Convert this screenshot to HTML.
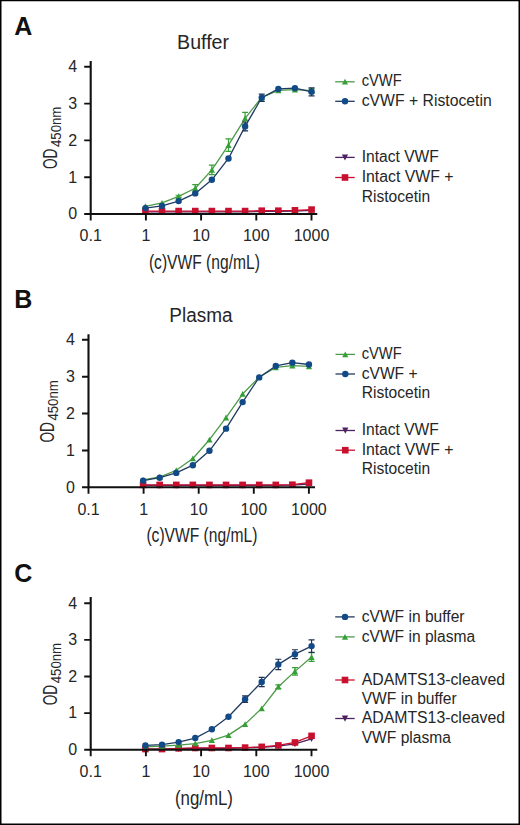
<!DOCTYPE html>
<html><head><meta charset="utf-8"><style>
html,body{margin:0;padding:0;background:#fff;}
svg{display:block;}
text{font-family:"Liberation Sans", sans-serif;}
</style></head><body>
<svg width="520" height="825" viewBox="0 0 520 825">
<rect x="0" y="0" width="520" height="825" fill="#fff"/>
<path d="M145.40 211.79 L162.02 211.79 L178.63 211.79 L195.25 211.79 L211.87 211.79 L228.48 211.79 L245.10 211.79 L261.72 211.42 L278.33 211.42 L294.95 211.06 L311.57 210.32" stroke="#4e2160" stroke-width="1.3" fill="none" stroke-linejoin="round"/>
<path d="M145.40 214.99L148.50 208.79L142.30 208.79Z" fill="#4e2160"/>
<path d="M162.02 214.99L165.12 208.79L158.92 208.79Z" fill="#4e2160"/>
<path d="M178.63 214.99L181.73 208.79L175.53 208.79Z" fill="#4e2160"/>
<path d="M195.25 214.99L198.35 208.79L192.15 208.79Z" fill="#4e2160"/>
<path d="M211.87 214.99L214.97 208.79L208.77 208.79Z" fill="#4e2160"/>
<path d="M228.48 214.99L231.58 208.79L225.38 208.79Z" fill="#4e2160"/>
<path d="M245.10 214.99L248.20 208.79L242.00 208.79Z" fill="#4e2160"/>
<path d="M261.72 214.62L264.82 208.42L258.62 208.42Z" fill="#4e2160"/>
<path d="M278.33 214.62L281.43 208.42L275.23 208.42Z" fill="#4e2160"/>
<path d="M294.95 214.26L298.05 208.06L291.85 208.06Z" fill="#4e2160"/>
<path d="M311.57 213.52L314.67 207.32L308.47 207.32Z" fill="#4e2160"/>
<path d="M145.40 211.06 L162.02 211.06 L178.63 211.06 L195.25 211.06 L211.87 211.06 L228.48 211.06 L245.10 211.06 L261.72 210.69 L278.33 210.69 L294.95 210.32 L311.57 209.58" stroke="#c8102e" stroke-width="1.3" fill="none" stroke-linejoin="round"/>
<rect x="142.10" y="207.76" width="6.6" height="6.6" fill="#c8102e"/>
<rect x="158.72" y="207.76" width="6.6" height="6.6" fill="#c8102e"/>
<rect x="175.33" y="207.76" width="6.6" height="6.6" fill="#c8102e"/>
<rect x="191.95" y="207.76" width="6.6" height="6.6" fill="#c8102e"/>
<rect x="208.57" y="207.76" width="6.6" height="6.6" fill="#c8102e"/>
<rect x="225.18" y="207.76" width="6.6" height="6.6" fill="#c8102e"/>
<rect x="241.80" y="207.76" width="6.6" height="6.6" fill="#c8102e"/>
<rect x="258.42" y="207.39" width="6.6" height="6.6" fill="#c8102e"/>
<rect x="275.03" y="207.39" width="6.6" height="6.6" fill="#c8102e"/>
<rect x="291.65" y="207.02" width="6.6" height="6.6" fill="#c8102e"/>
<rect x="308.27" y="206.28" width="6.6" height="6.6" fill="#c8102e"/>
<path d="M178.63 195.23V197.44M175.63 195.23h6M175.63 197.44h6" stroke="#35a035" stroke-width="1.2" fill="none"/>
<path d="M195.25 184.56V191.92M192.25 184.56h6M192.25 191.92h6" stroke="#35a035" stroke-width="1.2" fill="none"/>
<path d="M211.87 165.06V174.62M208.87 165.06h6M208.87 174.62h6" stroke="#35a035" stroke-width="1.2" fill="none"/>
<path d="M228.48 138.93V151.44M225.48 138.93h6M225.48 151.44h6" stroke="#35a035" stroke-width="1.2" fill="none"/>
<path d="M245.10 112.43V124.21M242.10 112.43h6M242.10 124.21h6" stroke="#35a035" stroke-width="1.2" fill="none"/>
<path d="M311.57 88.88V92.56M308.57 88.88h6M308.57 92.56h6" stroke="#35a035" stroke-width="1.2" fill="none"/>
<path d="M145.40 206.27 L162.02 202.96 L178.63 196.34 L195.25 188.24 L211.87 169.84 L228.48 145.18 L245.10 118.32 L261.72 97.34 L278.33 90.35 L294.95 89.62 L311.57 90.72" stroke="#4c9a48" stroke-width="1.3" fill="none" stroke-linejoin="round"/>
<path d="M145.40 203.27L148.50 209.07L142.30 209.07Z" fill="#35a035"/>
<path d="M162.02 199.96L165.12 205.76L158.92 205.76Z" fill="#35a035"/>
<path d="M178.63 193.34L181.73 199.14L175.53 199.14Z" fill="#35a035"/>
<path d="M195.25 185.24L198.35 191.04L192.15 191.04Z" fill="#35a035"/>
<path d="M211.87 166.84L214.97 172.64L208.77 172.64Z" fill="#35a035"/>
<path d="M228.48 142.18L231.58 147.98L225.38 147.98Z" fill="#35a035"/>
<path d="M245.10 115.32L248.20 121.12L242.00 121.12Z" fill="#35a035"/>
<path d="M261.72 94.34L264.82 100.14L258.62 100.14Z" fill="#35a035"/>
<path d="M278.33 87.35L281.43 93.15L275.23 93.15Z" fill="#35a035"/>
<path d="M294.95 86.62L298.05 92.42L291.85 92.42Z" fill="#35a035"/>
<path d="M311.57 87.72L314.67 93.52L308.47 93.52Z" fill="#35a035"/>
<path d="M245.10 122.00V130.83M242.10 122.00h6M242.10 130.83h6" stroke="#1d3050" stroke-width="1.2" fill="none"/>
<path d="M261.72 94.03V101.39M258.72 94.03h6M258.72 101.39h6" stroke="#1d3050" stroke-width="1.2" fill="none"/>
<path d="M311.57 87.78V95.87M308.57 87.78h6M308.57 95.87h6" stroke="#1d3050" stroke-width="1.2" fill="none"/>
<path d="M145.40 208.11 L162.02 205.90 L178.63 201.12 L195.25 193.39 L211.87 179.78 L228.48 158.43 L245.10 126.42 L261.72 97.71 L278.33 88.88 L294.95 88.14 L311.57 91.82" stroke="#1f3a60" stroke-width="1.3" fill="none" stroke-linejoin="round"/>
<circle cx="145.40" cy="208.11" r="3.2" fill="#124a88"/>
<circle cx="162.02" cy="205.90" r="3.2" fill="#124a88"/>
<circle cx="178.63" cy="201.12" r="3.2" fill="#124a88"/>
<circle cx="195.25" cy="193.39" r="3.2" fill="#124a88"/>
<circle cx="211.87" cy="179.78" r="3.2" fill="#124a88"/>
<circle cx="228.48" cy="158.43" r="3.2" fill="#124a88"/>
<circle cx="245.10" cy="126.42" r="3.2" fill="#124a88"/>
<circle cx="261.72" cy="97.71" r="3.2" fill="#124a88"/>
<circle cx="278.33" cy="88.88" r="3.2" fill="#124a88"/>
<circle cx="294.95" cy="88.14" r="3.2" fill="#124a88"/>
<circle cx="311.57" cy="91.82" r="3.2" fill="#124a88"/>
<path d="M90.70 61.00V214.00H317.30" stroke="#111" stroke-width="2.1" fill="none"/>
<path d="M84.20 214.00H90.70M84.20 177.20H90.70M84.20 140.40H90.70M84.20 103.60H90.70M84.20 66.80H90.70M90.70 214.00V220.50M145.90 214.00V220.50M201.10 214.00V220.50M256.30 214.00V220.50M311.50 214.00V220.50" stroke="#111" stroke-width="1.9" fill="none"/>
<text x="77.20" y="219.30" text-anchor="end" font-size="16" fill="#262626">0</text>
<text x="77.20" y="182.50" text-anchor="end" font-size="16" fill="#262626">1</text>
<text x="77.20" y="145.70" text-anchor="end" font-size="16" fill="#262626">2</text>
<text x="77.20" y="108.90" text-anchor="end" font-size="16" fill="#262626">3</text>
<text x="77.20" y="72.10" text-anchor="end" font-size="16" fill="#262626">4</text>
<text x="90.70" y="241.30" text-anchor="middle" font-size="16" fill="#262626">0.1</text>
<text x="145.90" y="241.30" text-anchor="middle" font-size="16" fill="#262626">1</text>
<text x="201.10" y="241.30" text-anchor="middle" font-size="16" fill="#262626">10</text>
<text x="256.30" y="241.30" text-anchor="middle" font-size="16" fill="#262626">100</text>
<text x="311.50" y="241.30" text-anchor="middle" font-size="16" fill="#262626">1000</text>
<text x="177.1" y="48.8" font-size="19.6" fill="#262626">Buffer</text>
<text x="148.9" y="268.5" font-size="19.5" fill="#262626" textLength="111" lengthAdjust="spacingAndGlyphs">(c)VWF (ng/mL)</text>
<text x="14.2" y="34.6" font-size="25" font-weight="bold" fill="#111">A</text>
<g transform="translate(56.5,169) rotate(-90)"><text x="0" y="0" font-size="21" fill="#262626"><tspan textLength="20.4" lengthAdjust="spacingAndGlyphs">OD</tspan><tspan font-size="15.5" dx="1.6" dy="4.3" textLength="40.4" lengthAdjust="spacingAndGlyphs">450nm</tspan></text></g>
<path d="M335.20 81.80H354.70" stroke="#4c9a48" stroke-width="1.3"/>
<path d="M345.00 78.80L348.10 84.60L341.90 84.60Z" fill="#35a035"/>
<text x="361.7" y="86.40" font-size="15.6" fill="#262626" textLength="40" lengthAdjust="spacingAndGlyphs">cVWF</text>
<path d="M335.20 101.30H354.70" stroke="#1f3a60" stroke-width="1.3"/>
<circle cx="345.00" cy="101.30" r="3.2" fill="#124a88"/>
<text x="361.7" y="105.90" font-size="15.6" fill="#262626" textLength="130" lengthAdjust="spacingAndGlyphs">cVWF + Ristocetin</text>
<path d="M335.20 157.40H354.70" stroke="#4e2160" stroke-width="1.3"/>
<path d="M345.00 160.60L348.10 154.40L341.90 154.40Z" fill="#4e2160"/>
<text x="361.7" y="162.00" font-size="15.6" fill="#262626">Intact VWF</text>
<path d="M335.20 177.50H354.70" stroke="#c8102e" stroke-width="1.3"/>
<rect x="341.70" y="174.20" width="6.6" height="6.6" fill="#c8102e"/>
<text x="361.7" y="182.10" font-size="15.6" fill="#262626" textLength="91.8" lengthAdjust="spacingAndGlyphs">Intact VWF +</text>
<text x="361.7" y="201.60" font-size="15.6" fill="#262626">Ristocetin</text>
<path d="M143.10 485.46 L159.69 485.46 L176.27 485.46 L192.86 485.46 L209.45 485.46 L226.03 485.46 L242.62 485.46 L259.21 485.46 L275.79 485.46 L292.38 485.09 L308.97 483.98" stroke="#4e2160" stroke-width="1.3" fill="none" stroke-linejoin="round"/>
<path d="M143.10 488.66L146.20 482.46L140.00 482.46Z" fill="#4e2160"/>
<path d="M159.69 488.66L162.79 482.46L156.59 482.46Z" fill="#4e2160"/>
<path d="M176.27 488.66L179.37 482.46L173.17 482.46Z" fill="#4e2160"/>
<path d="M192.86 488.66L195.96 482.46L189.76 482.46Z" fill="#4e2160"/>
<path d="M209.45 488.66L212.55 482.46L206.35 482.46Z" fill="#4e2160"/>
<path d="M226.03 488.66L229.13 482.46L222.93 482.46Z" fill="#4e2160"/>
<path d="M242.62 488.66L245.72 482.46L239.52 482.46Z" fill="#4e2160"/>
<path d="M259.21 488.66L262.31 482.46L256.11 482.46Z" fill="#4e2160"/>
<path d="M275.79 488.66L278.89 482.46L272.69 482.46Z" fill="#4e2160"/>
<path d="M292.38 488.29L295.48 482.09L289.28 482.09Z" fill="#4e2160"/>
<path d="M308.97 487.18L312.07 480.98L305.87 480.98Z" fill="#4e2160"/>
<path d="M143.10 484.90 L159.69 484.90 L176.27 484.90 L192.86 484.90 L209.45 484.90 L226.03 484.90 L242.62 484.90 L259.21 484.90 L275.79 484.90 L292.38 484.72 L308.97 482.69" stroke="#c8102e" stroke-width="1.3" fill="none" stroke-linejoin="round"/>
<rect x="139.80" y="481.60" width="6.6" height="6.6" fill="#c8102e"/>
<rect x="156.39" y="481.60" width="6.6" height="6.6" fill="#c8102e"/>
<rect x="172.97" y="481.60" width="6.6" height="6.6" fill="#c8102e"/>
<rect x="189.56" y="481.60" width="6.6" height="6.6" fill="#c8102e"/>
<rect x="206.15" y="481.60" width="6.6" height="6.6" fill="#c8102e"/>
<rect x="222.73" y="481.60" width="6.6" height="6.6" fill="#c8102e"/>
<rect x="239.32" y="481.60" width="6.6" height="6.6" fill="#c8102e"/>
<rect x="255.91" y="481.60" width="6.6" height="6.6" fill="#c8102e"/>
<rect x="272.49" y="481.60" width="6.6" height="6.6" fill="#c8102e"/>
<rect x="289.08" y="481.42" width="6.6" height="6.6" fill="#c8102e"/>
<rect x="305.67" y="479.39" width="6.6" height="6.6" fill="#c8102e"/>
<path d="M143.10 479.93 L159.69 476.98 L176.27 470.34 L192.86 458.54 L209.45 439.73 L226.03 417.61 L242.62 394.01 L259.21 377.04 L275.79 367.46 L292.38 365.61 L308.97 366.35" stroke="#4c9a48" stroke-width="1.3" fill="none" stroke-linejoin="round"/>
<path d="M143.10 476.93L146.20 482.73L140.00 482.73Z" fill="#35a035"/>
<path d="M159.69 473.98L162.79 479.78L156.59 479.78Z" fill="#35a035"/>
<path d="M176.27 467.34L179.37 473.14L173.17 473.14Z" fill="#35a035"/>
<path d="M192.86 455.54L195.96 461.34L189.76 461.34Z" fill="#35a035"/>
<path d="M209.45 436.73L212.55 442.53L206.35 442.53Z" fill="#35a035"/>
<path d="M226.03 414.61L229.13 420.41L222.93 420.41Z" fill="#35a035"/>
<path d="M242.62 391.01L245.72 396.81L239.52 396.81Z" fill="#35a035"/>
<path d="M259.21 374.04L262.31 379.84L256.11 379.84Z" fill="#35a035"/>
<path d="M275.79 364.46L278.89 370.26L272.69 370.26Z" fill="#35a035"/>
<path d="M292.38 362.61L295.48 368.41L289.28 368.41Z" fill="#35a035"/>
<path d="M308.97 363.35L312.07 369.15L305.87 369.15Z" fill="#35a035"/>
<path d="M143.10 480.66 L159.69 477.71 L176.27 472.92 L192.86 465.18 L209.45 450.79 L226.03 428.67 L242.62 402.12 L259.21 377.41 L275.79 365.98 L292.38 362.66 L308.97 364.51" stroke="#1f3a60" stroke-width="1.3" fill="none" stroke-linejoin="round"/>
<circle cx="143.10" cy="480.66" r="3.2" fill="#124a88"/>
<circle cx="159.69" cy="477.71" r="3.2" fill="#124a88"/>
<circle cx="176.27" cy="472.92" r="3.2" fill="#124a88"/>
<circle cx="192.86" cy="465.18" r="3.2" fill="#124a88"/>
<circle cx="209.45" cy="450.79" r="3.2" fill="#124a88"/>
<circle cx="226.03" cy="428.67" r="3.2" fill="#124a88"/>
<circle cx="242.62" cy="402.12" r="3.2" fill="#124a88"/>
<circle cx="259.21" cy="377.41" r="3.2" fill="#124a88"/>
<circle cx="275.79" cy="365.98" r="3.2" fill="#124a88"/>
<circle cx="292.38" cy="362.66" r="3.2" fill="#124a88"/>
<circle cx="308.97" cy="364.51" r="3.2" fill="#124a88"/>
<path d="M88.50 334.20V487.30H315.00" stroke="#111" stroke-width="2.1" fill="none"/>
<path d="M82.00 487.30H88.50M82.00 450.43H88.50M82.00 413.55H88.50M82.00 376.68H88.50M82.00 339.80H88.50M88.50 487.30V493.80M143.60 487.30V493.80M198.70 487.30V493.80M253.80 487.30V493.80M308.90 487.30V493.80" stroke="#111" stroke-width="1.9" fill="none"/>
<text x="75.00" y="492.60" text-anchor="end" font-size="16" fill="#262626">0</text>
<text x="75.00" y="455.73" text-anchor="end" font-size="16" fill="#262626">1</text>
<text x="75.00" y="418.85" text-anchor="end" font-size="16" fill="#262626">2</text>
<text x="75.00" y="381.98" text-anchor="end" font-size="16" fill="#262626">3</text>
<text x="75.00" y="345.10" text-anchor="end" font-size="16" fill="#262626">4</text>
<text x="88.50" y="514.60" text-anchor="middle" font-size="16" fill="#262626">0.1</text>
<text x="143.60" y="514.60" text-anchor="middle" font-size="16" fill="#262626">1</text>
<text x="198.70" y="514.60" text-anchor="middle" font-size="16" fill="#262626">10</text>
<text x="253.80" y="514.60" text-anchor="middle" font-size="16" fill="#262626">100</text>
<text x="308.90" y="514.60" text-anchor="middle" font-size="16" fill="#262626">1000</text>
<text x="169.3" y="322" font-size="19.6" fill="#262626" textLength="63.3" lengthAdjust="spacingAndGlyphs">Plasma</text>
<text x="146.4" y="541.8" font-size="19.5" fill="#262626" textLength="111" lengthAdjust="spacingAndGlyphs">(c)VWF (ng/mL)</text>
<text x="14.2" y="308.3" font-size="25" font-weight="bold" fill="#111">B</text>
<g transform="translate(53.9,442.6) rotate(-90)"><text x="0" y="0" font-size="21" fill="#262626"><tspan textLength="20.4" lengthAdjust="spacingAndGlyphs">OD</tspan><tspan font-size="15.5" dx="1.6" dy="4.3" textLength="40.4" lengthAdjust="spacingAndGlyphs">450nm</tspan></text></g>
<path d="M335.50 354.40H355.00" stroke="#4c9a48" stroke-width="1.3"/>
<path d="M345.30 351.40L348.40 357.20L342.20 357.20Z" fill="#35a035"/>
<text x="361.7" y="359.00" font-size="15.6" fill="#262626" textLength="40" lengthAdjust="spacingAndGlyphs">cVWF</text>
<path d="M335.50 374.00H355.00" stroke="#1f3a60" stroke-width="1.3"/>
<circle cx="345.30" cy="374.00" r="3.2" fill="#124a88"/>
<text x="361.7" y="378.60" font-size="15.6" fill="#262626">cVWF +</text>
<text x="361.7" y="398.10" font-size="15.6" fill="#262626">Ristocetin</text>
<path d="M335.50 430.50H355.00" stroke="#4e2160" stroke-width="1.3"/>
<path d="M345.30 433.70L348.40 427.50L342.20 427.50Z" fill="#4e2160"/>
<text x="361.7" y="435.10" font-size="15.6" fill="#262626">Intact VWF</text>
<path d="M335.50 450.20H355.00" stroke="#c8102e" stroke-width="1.3"/>
<rect x="342.00" y="446.90" width="6.6" height="6.6" fill="#c8102e"/>
<text x="361.7" y="454.80" font-size="15.6" fill="#262626" textLength="91.8" lengthAdjust="spacingAndGlyphs">Intact VWF +</text>
<text x="361.7" y="474.30" font-size="15.6" fill="#262626">Ristocetin</text>
<path d="M145.40 749.07 L162.02 749.07 L178.63 748.70 L195.25 748.33 L211.87 748.33 L228.48 748.33 L245.10 747.97 L261.72 747.23 L278.33 746.13 L294.95 743.94 L311.57 738.80" stroke="#4e2160" stroke-width="1.3" fill="none" stroke-linejoin="round"/>
<path d="M145.40 752.27L148.50 746.07L142.30 746.07Z" fill="#4e2160"/>
<path d="M162.02 752.27L165.12 746.07L158.92 746.07Z" fill="#4e2160"/>
<path d="M178.63 751.90L181.73 745.70L175.53 745.70Z" fill="#4e2160"/>
<path d="M195.25 751.53L198.35 745.33L192.15 745.33Z" fill="#4e2160"/>
<path d="M211.87 751.53L214.97 745.33L208.77 745.33Z" fill="#4e2160"/>
<path d="M228.48 751.53L231.58 745.33L225.38 745.33Z" fill="#4e2160"/>
<path d="M245.10 751.17L248.20 744.97L242.00 744.97Z" fill="#4e2160"/>
<path d="M261.72 750.43L264.82 744.23L258.62 744.23Z" fill="#4e2160"/>
<path d="M278.33 749.34L281.43 743.13L275.23 743.13Z" fill="#4e2160"/>
<path d="M294.95 747.14L298.05 740.94L291.85 740.94Z" fill="#4e2160"/>
<path d="M311.57 742.00L314.67 735.80L308.47 735.80Z" fill="#4e2160"/>
<path d="M145.40 749.07 L162.02 749.07 L178.63 748.33 L195.25 747.97 L211.87 747.97 L228.48 747.97 L245.10 747.60 L261.72 746.87 L278.33 745.40 L294.95 742.47 L311.57 735.87" stroke="#c8102e" stroke-width="1.3" fill="none" stroke-linejoin="round"/>
<rect x="142.10" y="745.77" width="6.6" height="6.6" fill="#c8102e"/>
<rect x="158.72" y="745.77" width="6.6" height="6.6" fill="#c8102e"/>
<rect x="175.33" y="745.03" width="6.6" height="6.6" fill="#c8102e"/>
<rect x="191.95" y="744.67" width="6.6" height="6.6" fill="#c8102e"/>
<rect x="208.57" y="744.67" width="6.6" height="6.6" fill="#c8102e"/>
<rect x="225.18" y="744.67" width="6.6" height="6.6" fill="#c8102e"/>
<rect x="241.80" y="744.30" width="6.6" height="6.6" fill="#c8102e"/>
<rect x="258.42" y="743.57" width="6.6" height="6.6" fill="#c8102e"/>
<rect x="275.03" y="742.10" width="6.6" height="6.6" fill="#c8102e"/>
<rect x="291.65" y="739.17" width="6.6" height="6.6" fill="#c8102e"/>
<rect x="308.27" y="732.57" width="6.6" height="6.6" fill="#c8102e"/>
<path d="M278.33 684.93V688.59M275.33 684.93h6M275.33 688.59h6" stroke="#35a035" stroke-width="1.2" fill="none"/>
<path d="M294.95 667.70V675.03M291.95 667.70h6M291.95 675.03h6" stroke="#35a035" stroke-width="1.2" fill="none"/>
<path d="M311.57 652.68V661.47M308.57 652.68h6M308.57 661.47h6" stroke="#35a035" stroke-width="1.2" fill="none"/>
<path d="M145.40 746.87 L162.02 746.13 L178.63 745.04 L195.25 743.57 L211.87 740.27 L228.48 735.14 L245.10 724.14 L261.72 708.39 L278.33 686.76 L294.95 671.37 L311.57 657.08" stroke="#4c9a48" stroke-width="1.3" fill="none" stroke-linejoin="round"/>
<path d="M145.40 743.87L148.50 749.67L142.30 749.67Z" fill="#35a035"/>
<path d="M162.02 743.13L165.12 748.93L158.92 748.93Z" fill="#35a035"/>
<path d="M178.63 742.04L181.73 747.84L175.53 747.84Z" fill="#35a035"/>
<path d="M195.25 740.57L198.35 746.37L192.15 746.37Z" fill="#35a035"/>
<path d="M211.87 737.27L214.97 743.07L208.77 743.07Z" fill="#35a035"/>
<path d="M228.48 732.14L231.58 737.94L225.38 737.94Z" fill="#35a035"/>
<path d="M245.10 721.14L248.20 726.94L242.00 726.94Z" fill="#35a035"/>
<path d="M261.72 705.39L264.82 711.19L258.62 711.19Z" fill="#35a035"/>
<path d="M278.33 683.76L281.43 689.56L275.23 689.56Z" fill="#35a035"/>
<path d="M294.95 668.37L298.05 674.17L291.85 674.17Z" fill="#35a035"/>
<path d="M311.57 654.08L314.67 659.88L308.47 659.88Z" fill="#35a035"/>
<path d="M245.10 695.92V702.52M242.10 695.92h6M242.10 702.52h6" stroke="#1d3050" stroke-width="1.2" fill="none"/>
<path d="M261.72 677.42V686.58M258.72 677.42h6M258.72 686.58h6" stroke="#1d3050" stroke-width="1.2" fill="none"/>
<path d="M278.33 659.27V669.54M275.33 659.27h6M275.33 669.54h6" stroke="#1d3050" stroke-width="1.2" fill="none"/>
<path d="M294.95 649.75V658.54M291.95 649.75h6M291.95 658.54h6" stroke="#1d3050" stroke-width="1.2" fill="none"/>
<path d="M311.57 639.85V652.31M308.57 639.85h6M308.57 652.31h6" stroke="#1d3050" stroke-width="1.2" fill="none"/>
<path d="M145.40 745.40 L162.02 744.67 L178.63 742.10 L195.25 738.07 L211.87 729.28 L228.48 716.81 L245.10 699.22 L261.72 682.00 L278.33 664.41 L294.95 654.14 L311.57 646.08" stroke="#1f3a60" stroke-width="1.3" fill="none" stroke-linejoin="round"/>
<circle cx="145.40" cy="745.40" r="3.2" fill="#124a88"/>
<circle cx="162.02" cy="744.67" r="3.2" fill="#124a88"/>
<circle cx="178.63" cy="742.10" r="3.2" fill="#124a88"/>
<circle cx="195.25" cy="738.07" r="3.2" fill="#124a88"/>
<circle cx="211.87" cy="729.28" r="3.2" fill="#124a88"/>
<circle cx="228.48" cy="716.81" r="3.2" fill="#124a88"/>
<circle cx="245.10" cy="699.22" r="3.2" fill="#124a88"/>
<circle cx="261.72" cy="682.00" r="3.2" fill="#124a88"/>
<circle cx="278.33" cy="664.41" r="3.2" fill="#124a88"/>
<circle cx="294.95" cy="654.14" r="3.2" fill="#124a88"/>
<circle cx="311.57" cy="646.08" r="3.2" fill="#124a88"/>
<path d="M90.70 597.10V749.80H317.30" stroke="#111" stroke-width="2.1" fill="none"/>
<path d="M84.20 749.80H90.70M84.20 713.15H90.70M84.20 676.50H90.70M84.20 639.85H90.70M84.20 603.20H90.70M90.70 749.80V756.30M145.90 749.80V756.30M201.10 749.80V756.30M256.30 749.80V756.30M311.50 749.80V756.30" stroke="#111" stroke-width="1.9" fill="none"/>
<text x="77.20" y="755.10" text-anchor="end" font-size="16" fill="#262626">0</text>
<text x="77.20" y="718.45" text-anchor="end" font-size="16" fill="#262626">1</text>
<text x="77.20" y="681.80" text-anchor="end" font-size="16" fill="#262626">2</text>
<text x="77.20" y="645.15" text-anchor="end" font-size="16" fill="#262626">3</text>
<text x="77.20" y="608.50" text-anchor="end" font-size="16" fill="#262626">4</text>
<text x="90.70" y="777.10" text-anchor="middle" font-size="16" fill="#262626">0.1</text>
<text x="145.90" y="777.10" text-anchor="middle" font-size="16" fill="#262626">1</text>
<text x="201.10" y="777.10" text-anchor="middle" font-size="16" fill="#262626">10</text>
<text x="256.30" y="777.10" text-anchor="middle" font-size="16" fill="#262626">100</text>
<text x="311.50" y="777.10" text-anchor="middle" font-size="16" fill="#262626">1000</text>
<text x="174.9" y="805.2" font-size="19.5" fill="#262626" textLength="58.1" lengthAdjust="spacingAndGlyphs">(ng/mL)</text>
<text x="14.2" y="581.5" font-size="25" font-weight="bold" fill="#111">C</text>
<g transform="translate(56.5,705.3) rotate(-90)"><text x="0" y="0" font-size="21" fill="#262626"><tspan textLength="20.4" lengthAdjust="spacingAndGlyphs">OD</tspan><tspan font-size="15.5" dx="1.6" dy="4.3" textLength="40.4" lengthAdjust="spacingAndGlyphs">450nm</tspan></text></g>
<path d="M335.20 616.90H354.70" stroke="#1f3a60" stroke-width="1.3"/>
<circle cx="345.00" cy="616.90" r="3.2" fill="#124a88"/>
<text x="361.7" y="621.50" font-size="15.6" fill="#262626">cVWF in buffer</text>
<path d="M335.20 636.90H354.70" stroke="#4c9a48" stroke-width="1.3"/>
<path d="M345.00 633.90L348.10 639.70L341.90 639.70Z" fill="#35a035"/>
<text x="361.7" y="641.50" font-size="15.6" fill="#262626">cVWF in plasma</text>
<path d="M335.20 680.00H354.70" stroke="#c8102e" stroke-width="1.3"/>
<rect x="341.70" y="676.70" width="6.6" height="6.6" fill="#c8102e"/>
<text x="361.7" y="684.60" font-size="15.6" fill="#262626" textLength="143.3" lengthAdjust="spacingAndGlyphs">ADAMTS13-cleaved</text>
<text x="361.7" y="704.10" font-size="15.6" fill="#262626">VWF in buffer</text>
<path d="M335.20 718.50H354.70" stroke="#4e2160" stroke-width="1.3"/>
<path d="M345.00 721.70L348.10 715.50L341.90 715.50Z" fill="#4e2160"/>
<text x="361.7" y="723.10" font-size="15.6" fill="#262626" textLength="143.3" lengthAdjust="spacingAndGlyphs">ADAMTS13-cleaved</text>
<text x="361.7" y="742.60" font-size="15.6" fill="#262626">VWF plasma</text>
<rect x="0" y="0" width="520" height="1.25" fill="#000"/><rect x="0" y="0" width="1.5" height="825" fill="#000"/><rect x="518.5" y="0" width="1.5" height="825" fill="#000"/><rect x="0" y="823.5" width="520" height="1.5" fill="#000"/>
</svg>
</body></html>
